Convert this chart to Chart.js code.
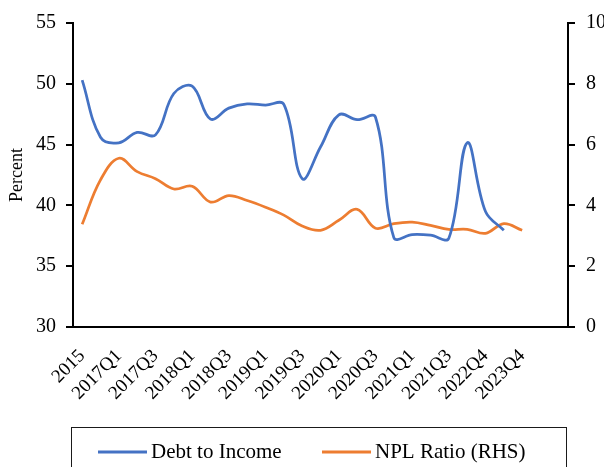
<!DOCTYPE html>
<html>
<head>
<meta charset="utf-8">
<script src="https://cdn.jsdelivr.net/npm/chart.js@4.4.1/dist/chart.umd.min.js"></script>
<style>
  html, body { margin: 0; padding: 0; background: #fff; }
  #wrap { position: relative; width: 604px; height: 467px; }
</style>
</head>
<body>
<div id="wrap"><canvas id="myChart"></canvas></div>
<script>
// periods on the x axis (every other one is labelled, the last two slots are empty)
const periods = [
  '2015', '2016', '2017Q1', '2017Q2', '2017Q3', '2017Q4', '2018Q1', '2018Q2',
  '2018Q3', '2018Q4', '2019Q1', '2019Q2', '2019Q3', '2019Q4', '2020Q1', '2020Q2',
  '2020Q3', '2020Q4', '2021Q1', '2021Q2', '2021Q3', '2022Q2', '2022Q4', '2023Q2',
  '2023Q4', '', ''
];

// household debt to income, percent (left axis)
const debtToIncome = [
  50.3, 45.6, 45.15, 46.0, 45.8, 49.2, 49.8, 47.1, 48.0, 48.35, 48.25, 48.3,
  42.2, 44.8, 47.45, 47.05, 47.25, 37.35, 37.6, 37.55, 37.3, 45.15, 39.5, 37.95,
  null, null, null
];

// non-performing loan ratio, percent (right axis)
const nplRatio = [
  3.38, 4.84, 5.55, 5.11, 4.88, 4.54, 4.63, 4.11, 4.32, 4.16, 3.94, 3.68,
  3.32, 3.18, 3.51, 3.87, 3.25, 3.40, 3.45, 3.34, 3.21, 3.21, 3.08, 3.40,
  3.18, null, null
];

const leftTicks = { min: 30, max: 55, step: 5 };
const rightTicks = { min: 0, max: 10, step: 2 };

const serif = "'Liberation Serif', 'Times New Roman', serif";

// boxed legend under the plot
const boxedLegend = {
  id: 'boxedLegend',
  afterDraw(chart) {
    const ctx = chart.ctx;
    ctx.save();
    ctx.strokeStyle = '#1a1a1a';
    ctx.lineWidth = 1;
    ctx.strokeRect(71.5, 427.5, 495, 60);

    const items = [
      { x: 98, ds: chart.data.datasets[0] },
      { x: 322, ds: chart.data.datasets[1] }
    ];
    const y = 452;
    ctx.font = '21px ' + serif;
    ctx.textBaseline = 'middle';
    ctx.fillStyle = '#000';
    items.forEach((it) => {
      ctx.strokeStyle = it.ds.borderColor;
      ctx.lineWidth = 3;
      ctx.beginPath();
      ctx.moveTo(it.x, y);
      ctx.lineTo(it.x + 49, y);
      ctx.stroke();
      ctx.fillText(it.ds.label, it.x + 53, y);
    });
    ctx.restore();
  }
};

new Chart(document.getElementById('myChart'), {
  type: 'line',
  data: {
    labels: periods,
    datasets: [{
      label: 'Debt to Income',
      data: debtToIncome,
      borderColor: '#4472C4',
      backgroundColor: '#4472C4',
      borderWidth: 2.75,
      pointRadius: 0,
      tension: 0.38,
      yAxisID: 'y'
    }, {
      label: 'NPL Ratio (RHS)',
      data: nplRatio,
      borderColor: '#ED7D31',
      backgroundColor: '#ED7D31',
      borderWidth: 2.75,
      pointRadius: 0,
      tension: 0.38,
      yAxisID: 'y1'
    }]
  },
  options: {
    responsive: true,
    maintainAspectRatio: false,
    animation: false,
    layout: { padding: { top: 20, left: 0, right: 0, bottom: 0 } },
    plugins: {
      legend: { display: false },
      tooltip: { enabled: false }
    },
    scales: {
      x: {
        offset: true,
        grid: { display: false, drawTicks: false },
        border: { color: '#000', width: 2 },
        ticks: {
          autoSkip: false,
          minRotation: 45,
          maxRotation: 45,
          color: '#000',
          padding: 18,
          font: { family: serif, size: 19 },
          callback: function (value, index) {
            return index % 2 === 0 ? this.getLabelForValue(value) : '';
          }
        },
        afterFit: (scale) => { scale.height = 140; }
      },
      y: {
        position: 'left',
        min: leftTicks.min,
        max: leftTicks.max,
        grid: { drawOnChartArea: false, color: '#000', lineWidth: 2, tickLength: 7 },
        border: { color: '#000', width: 2 },
        ticks: {
          stepSize: leftTicks.step,
          color: '#000',
          padding: 10,
          font: { family: serif, size: 20 }
        },
        title: {
          display: true,
          text: 'Percent',
          color: '#000',
          padding: { top: 6, bottom: 0 },
          font: { family: serif, size: 18 }
        },
        afterFit: (scale) => { scale.width = 73; }
      },
      y1: {
        position: 'right',
        min: rightTicks.min,
        max: rightTicks.max,
        grid: { drawOnChartArea: false, color: '#000', lineWidth: 2, tickLength: 7 },
        border: { color: '#000', width: 2 },
        ticks: {
          stepSize: rightTicks.step,
          color: '#000',
          padding: 11,
          font: { family: serif, size: 20 }
        },
        afterFit: (scale) => { scale.width = 36; }
      }
    }
  },
  plugins: [boxedLegend]
});
</script>
</body>
</html>
